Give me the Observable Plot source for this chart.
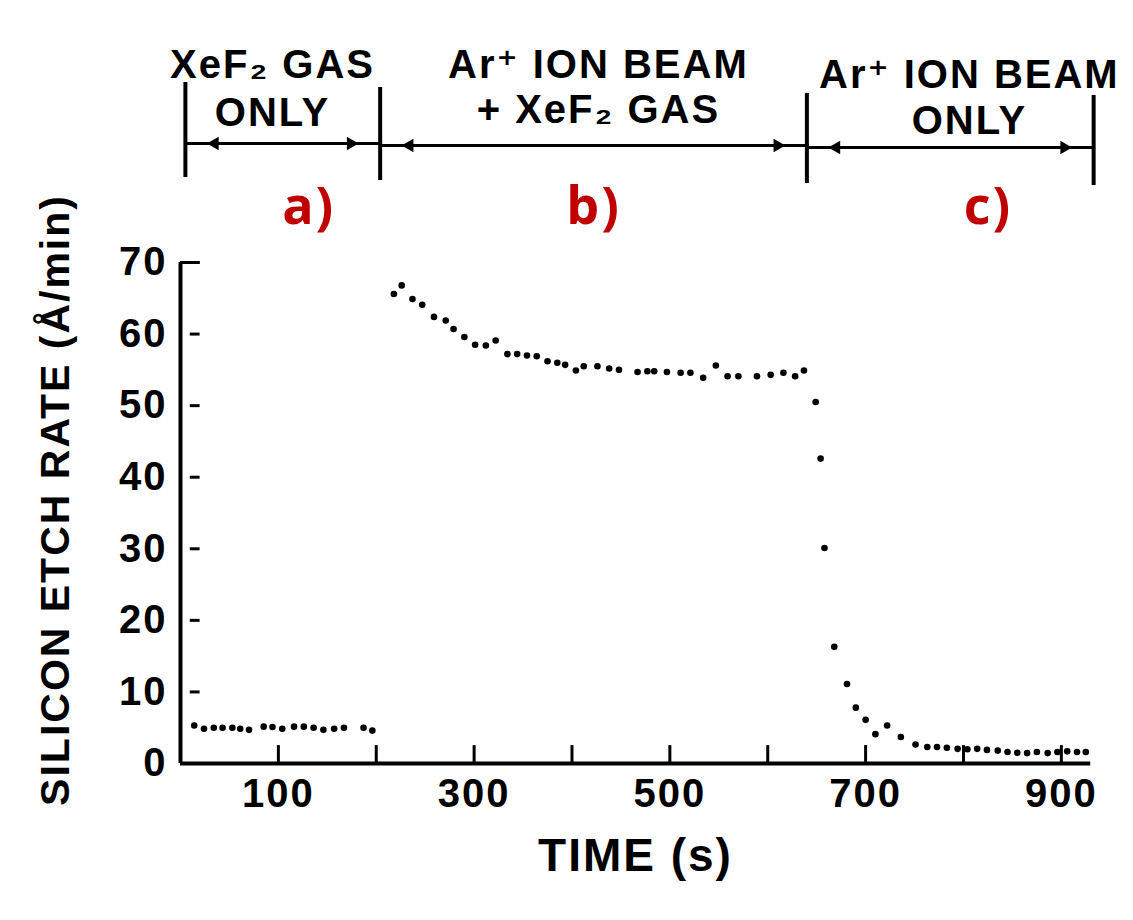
<!DOCTYPE html>
<html>
<head>
<meta charset="utf-8">
<script src="https://cdn.jsdelivr.net/npm/d3@7"></script>
<script src="https://cdn.jsdelivr.net/npm/@observablehq/plot@0.6"></script>
<style>
  body { margin: 0; background: #ffffff; }
  #chart svg text { letter-spacing: 2px; }
  #chart svg text.tag { letter-spacing: 0; }
</style>
</head>
<body>
<div id="chart"></div>
<script>
// ---- data ----
const timeA = [14, 24, 34, 43, 53, 61, 70, 85, 94, 104, 116, 126, 136, 146, 157, 167, 187, 196];
const rateA = [5.3, 4.85, 5.0, 5.0, 5.0, 4.85, 4.7, 5.15, 5.1, 4.85, 5.15, 5.15, 5.0, 4.7, 4.85, 5.0, 5.0, 4.6];

const timeB = [218, 226, 237, 247, 259, 271, 279, 290, 301, 312, 322, 334, 344, 354, 364, 375, 385, 393, 404, 412, 426, 438, 448, 467, 477, 484, 497, 511, 521, 534, 547, 559, 570, 589, 603, 616, 628, 637];
const rateB = [65.6, 66.8, 64.9, 64.1, 62.4, 61.9, 60.7, 59.6, 58.5, 58.4, 59.1, 57.2, 57.2, 57.0, 56.9, 56.2, 56.0, 55.7, 54.9, 55.5, 55.5, 55.2, 55.0, 54.7, 54.8, 54.8, 54.7, 54.6, 54.6, 53.9, 55.6, 54.1, 54.1, 54.1, 54.3, 54.6, 54.1, 54.9];

const timeC = [649, 654, 658, 668, 681, 690, 700, 710, 722, 736, 751, 763, 773, 783, 794, 804, 814, 824, 835, 845, 855, 865, 875, 886, 896, 906, 916, 925];
const rateC = [50.5, 42.6, 30.1, 16.3, 11.1, 7.8, 6.1, 4.1, 5.3, 3.7, 2.65, 2.3, 2.3, 2.2, 2.05, 2.0, 2.05, 1.9, 1.8, 1.6, 1.5, 1.45, 1.6, 1.45, 1.6, 1.7, 1.6, 1.6];

const yTicks = [0, 10, 20, 30, 40, 50, 60, 70];
const xTickMarks = [100, 200, 300, 400, 500, 600, 700, 800, 900];
const xTickLabels = [100, 300, 500, 700, 900];

// phases of the experiment (time boundaries in s)
const phaseBounds = [5, 204, 640, 933];
const phaseLine1 = ["XeF₂ GAS", "Ar⁺ ION BEAM", "Ar⁺ ION BEAM"];
const phaseLine2 = ["ONLY", "+ XeF₂ GAS", "ONLY"];
const phaseLabelAt = [94, 427, 806];
const phaseTags = ["a)", "b)", "c)"];
const phaseTagAt = [131, 422, 825];

// ---- layout ----
const W = 1133, H = 920;
const mL = 180, mR = 33, mT = 262, mB = 157;
const yMax = 70;
const pxPerUnit = (H - mT - mB) / yMax;
// pixel row above the frame -> value units (the y scale extrapolates linearly)
const vAt = p => (H - mB - p) / pxPerUnit;

const barTop = [82, 87, 93, 95];
const barBottom = [177, 180, 183, 185];
const arrowRow = [143, 145, 147];
const line1Row = [77, 77, 87];
const line2Row = [125, 122, 133];
const tagRow = 223;

const points = [
  ...timeA.map((t, i) => ({t, v: rateA[i]})),
  ...timeB.map((t, i) => ({t, v: rateB[i]})),
  ...timeC.map((t, i) => ({t, v: rateC[i]}))
];

const bars = phaseBounds.map((b, i) => ({x: b, y1: vAt(barBottom[i]), y2: vAt(barTop[i])}));
const phases = phaseLine1.map((l1, i) => ({
  start: phaseBounds[i], end: phaseBounds[i + 1],
  l1, l2: phaseLine2[i], at: phaseLabelAt[i],
  tag: phaseTags[i], tagAt: phaseTagAt[i],
  ya: vAt(arrowRow[i]), y1: vAt(line1Row[i]), y2: vAt(line2Row[i])
}));
const inset = 30; // arrowhead inset from the bars (s)
const heads = phases.flatMap(p => [
  {x: p.start + inset, y: p.ya, rot: -90},
  {x: p.end - inset, y: p.ya, rot: 90}
]);

const font = "'Liberation Sans', 'DejaVu Sans', Arial, sans-serif";

const chart = Plot.plot({
  width: W, height: H,
  marginLeft: mL, marginRight: mR, marginTop: mT, marginBottom: mB,
  style: {fontFamily: font, fontWeight: "bold", color: "#000", background: "#ffffff", overflow: "visible"},
  x: {domain: [0, 940]},
  y: {domain: [0, yMax]},
  marks: [
    Plot.axisX({ticks: xTickLabels, tickSize: 0, tickPadding: 15, fontSize: 40, label: null}),
    Plot.axisY({ticks: yTicks, tickSize: 0, tickPadding: 13, fontSize: 40, label: null}),
    // axis lines
    Plot.ruleX([0], {y1: 0, y2: yMax, stroke: "#000", strokeWidth: 4}),
    Plot.ruleY([0], {x1: 0, x2: 930, stroke: "#000", strokeWidth: 4}),
    // inward ticks
    Plot.ruleY(yTicks.filter(d => d > 0), {y: d => d, x1: 10, x2: 20, stroke: "#000", strokeWidth: 3}),
    Plot.ruleY([yMax], {x1: 0, x2: 20, stroke: "#000", strokeWidth: 3}),
    Plot.ruleX(xTickMarks, {x: d => d, y1: 0, y2: 2.5, stroke: "#000", strokeWidth: 3}),
    // data points
    Plot.dot(points, {x: "t", y: "v", r: 3.3, fill: "#000", stroke: "none"}),
    // phase annotations
    Plot.ruleX(bars, {x: "x", y1: "y1", y2: "y2", stroke: "#000", strokeWidth: 4}),
    Plot.link(phases, {x1: "start", x2: "end", y1: "ya", y2: "ya", stroke: "#000", strokeWidth: 3}),
    Plot.dot(heads, {x: "x", y: "y", rotate: "rot", symbol: "triangle2", r: 6.5, fill: "#000"}),
    Plot.text(phases, {x: "at", y: "y1", text: "l1", lineAnchor: "bottom", fontSize: 40, fontWeight: "bold", fill: "#000"}),
    Plot.text(phases, {x: "at", y: "y2", text: "l2", lineAnchor: "bottom", fontSize: 40, fontWeight: "bold", fill: "#000"}),
    Plot.text(phases, {x: "tagAt", y: () => vAt(tagRow), text: "tag", lineAnchor: "bottom", fontSize: 52, fontWeight: "bold", fontFamily: "'Open Sans', sans-serif", fill: "#c00000", className: "tag"}),
    // axis titles
    Plot.text(["TIME (s)"], {frameAnchor: "bottom", lineAnchor: "bottom", dy: 107, dx: -5, fontSize: 46, fontWeight: "bold", fill: "#000"}),
    Plot.text(["SILICON ETCH RATE (Å/min)"], {frameAnchor: "left", textAnchor: "middle", lineAnchor: "middle", rotate: -90, dx: -125, dy: -13, fontSize: 41, fontWeight: "bold", fill: "#000"})
  ]
});

document.getElementById("chart").appendChild(chart);
</script>
</body>
</html>
